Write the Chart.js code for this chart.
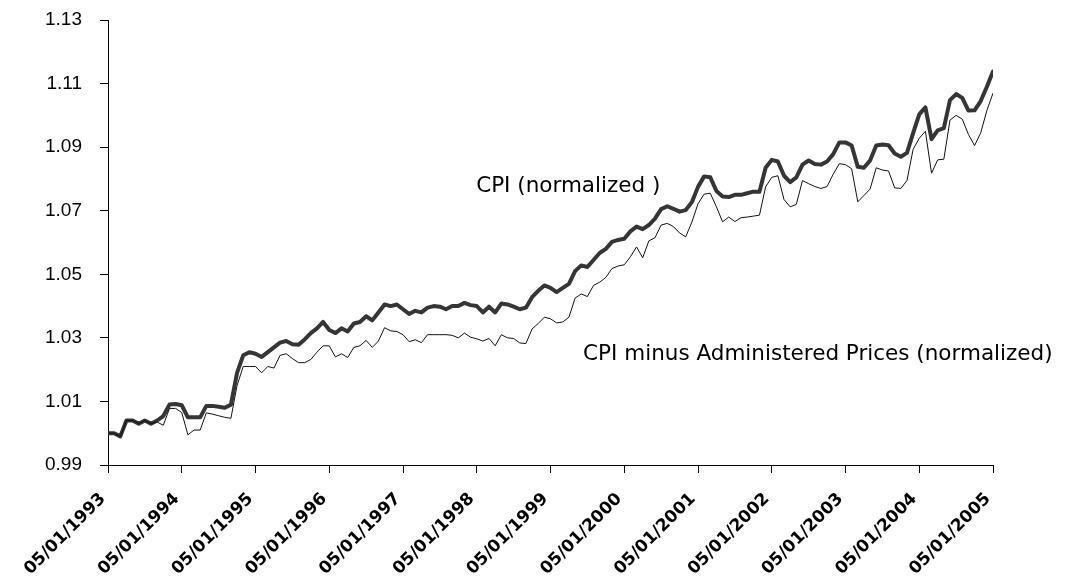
<!DOCTYPE html>
<html>
<head>
<meta charset="utf-8">
<title>CPI vs CPI minus Administered Prices</title>
<script src="https://cdn.jsdelivr.net/npm/chart.js@4.4.1/dist/chart.umd.min.js"></script>
<style>
  html, body { margin: 0; padding: 0; background: #fff; }
  #wrap { width: 1067px; height: 583px; }
  canvas { display: block; }
</style>
</head>
<body>
<div id="wrap"><canvas id="cpiChart" width="1067" height="583"></canvas></div>
<script>
// monthly, 05/1993 .. 05/2005 (145 points), one row per year
const cpi = [
  1.000, 1.000, 0.999, 1.004, 1.004, 1.003, 1.004, 1.003, 1.004, 1.0054, 1.009, 1.0092,
  1.0088, 1.005, 1.005, 1.005, 1.0086, 1.0086, 1.0083, 1.008, 1.009, 1.019, 1.0245, 1.0255,
  1.025, 1.024, 1.0255, 1.027, 1.0285, 1.029, 1.028, 1.0278, 1.0295, 1.0315, 1.033, 1.035,
  1.0325, 1.0315, 1.033, 1.032, 1.0345, 1.035, 1.0368, 1.0355, 1.038, 1.0405, 1.040, 1.0405,
  1.039, 1.0375, 1.0385, 1.038, 1.0395, 1.040, 1.0398, 1.039, 1.040, 1.040, 1.041, 1.0403,
  1.040, 1.038, 1.0398, 1.038, 1.0408, 1.0405, 1.0398, 1.039, 1.0395, 1.0428, 1.0448, 1.0465,
  1.0457, 1.0444, 1.0457, 1.047, 1.051, 1.0528, 1.0523, 1.0545, 1.0567, 1.058, 1.0602, 1.0608,
  1.0612, 1.0635, 1.065, 1.0642, 1.0655, 1.0675, 1.0705, 1.0714, 1.0706, 1.0697, 1.0702, 1.0727,
  1.0775, 1.0808, 1.0805, 1.0762, 1.0745, 1.0743, 1.075, 1.075, 1.0755, 1.076, 1.076, 1.0835,
  1.086, 1.0855, 1.081, 1.079, 1.0805, 1.0845, 1.0858, 1.0847, 1.0845, 1.0855, 1.0878, 1.0915,
  1.0915, 1.0905, 1.0838, 1.0835, 1.0858, 1.0905, 1.0908, 1.0906, 1.088, 1.087, 1.0882, 1.0944,
  1.1003, 1.1025, 1.0925, 1.0953, 1.096, 1.1048, 1.1067, 1.1055, 1.1015, 1.1016, 1.1045, 1.109,
  1.1138
];

const cpiExAdmin = [
  1.000, 1.000, 0.999, 1.004, 1.004, 1.003, 1.004, 1.003, 1.0035, 1.0025, 1.0078, 1.0078,
  1.0065, 0.9995, 1.001, 1.001, 1.0064, 1.006, 1.0055, 1.005, 1.0047, 1.015, 1.021, 1.021,
  1.021, 1.019, 1.021, 1.0205, 1.0245, 1.025, 1.0235, 1.0222, 1.0222, 1.0232, 1.0255, 1.0275,
  1.0275, 1.024, 1.025, 1.0238, 1.027, 1.0275, 1.0292, 1.027, 1.029, 1.0332, 1.0322, 1.032,
  1.031, 1.0288, 1.0294, 1.0285, 1.031, 1.031, 1.031, 1.031, 1.0308, 1.030, 1.0315, 1.0302,
  1.0297, 1.029, 1.0298, 1.0275, 1.031, 1.030, 1.0298, 1.0284, 1.0282, 1.0328, 1.0345, 1.0365,
  1.036, 1.0347, 1.035, 1.0365, 1.0425, 1.0438, 1.043, 1.0465, 1.0475, 1.049, 1.0518, 1.0526,
  1.053, 1.0555, 1.0586, 1.0552, 1.0605, 1.0615, 1.0655, 1.066, 1.065, 1.063, 1.0618, 1.0664,
  1.0722, 1.0752, 1.0755, 1.0712, 1.0665, 1.068, 1.0666, 1.0678, 1.068, 1.0683, 1.0686, 1.0775,
  1.0805, 1.081, 1.0735, 1.0712, 1.072, 1.0795, 1.0785, 1.0776, 1.077, 1.0776, 1.0815, 1.0848,
  1.0845, 1.0832, 1.0728, 1.0748, 1.0768, 1.0835, 1.0828, 1.0825, 1.0772, 1.077, 1.0795, 1.0893,
  1.0928, 1.095, 1.0818, 1.086, 1.0862, 1.0985, 1.1, 1.0988, 1.094, 1.0905, 1.0945, 1.1015,
  1.107
];

// one label every 12 months
const tickLabels = [
  '05/01/1993', '05/01/1994', '05/01/1995', '05/01/1996', '05/01/1997', '05/01/1998', '05/01/1999',
  '05/01/2000', '05/01/2001', '05/01/2002', '05/01/2003', '05/01/2004', '05/01/2005'
];

const yTicks = [0.99, 1.01, 1.03, 1.05, 1.07, 1.09, 1.11, 1.13];

// text put next to the lines: [text, month index, value]
const notes = [
  ['CPI (normalized )', 59.9, 1.0759],
  ['CPI minus Administered Prices (normalized)', 77.3, 1.023]
];

Chart.defaults.color = '#000';
Chart.defaults.font.family = '"Liberation Sans", Arial, sans-serif';

// writes the two series names straight onto the plot
const notesPlugin = {
  id: 'notes',
  afterDatasetsDraw(chart) {
    const ctx = chart.ctx;
    const xs = chart.scales.x, ys = chart.scales.y;
    ctx.save();
    ctx.font = '21.5px "DejaVu Sans"';
    ctx.fillStyle = '#000';
    ctx.textBaseline = 'alphabetic';
    notes.forEach(n => {
      ctx.fillText(n[0], xs.getPixelForValue(n[1]), ys.getPixelForValue(n[2]));
    });
    ctx.restore();
  }
};

const toPoints = arr => arr.map((v, i) => ({ x: i, y: v }));

new Chart(document.getElementById('cpiChart'), {
  type: 'line',
  data: {
    datasets: [
      {
        label: 'CPI minus Administered Prices (normalized)',
        data: toPoints(cpiExAdmin),
        borderColor: '#111',
        borderWidth: 1,
        pointRadius: 0,
        tension: 0,
        order: 1
      },
      {
        label: 'CPI (normalized )',
        data: toPoints(cpi),
        borderColor: '#353535',
        borderWidth: 4,
        borderJoinStyle: 'round',
        borderCapStyle: 'round',
        pointRadius: 0,
        tension: 0,
        order: 2
      }
    ]
  },
  options: {
    responsive: false,
    animation: false,
    // chartArea is 108..993 x 20..465
    layout: { padding: { top: 20, right: 74, left: 0, bottom: 0 } },
    plugins: { legend: { display: false }, tooltip: { enabled: false } },
    scales: {
      x: {
        type: 'linear',
        min: 0,
        max: 144,
        afterFit: s => { s.height = 118; },
        border: { color: '#000', width: 1 },
        grid: { drawOnChartArea: false, drawTicks: true, tickLength: 8, color: '#000' },
        ticks: {
          stepSize: 12,
          autoSkip: false,
          maxRotation: 45,
          minRotation: 45,
          padding: 16,
          labelOffset: -5,
          font: { family: '"DejaVu Sans"', size: 17, weight: 'bold' },
          callback: v => tickLabels[v / 12]
        }
      },
      y: {
        min: 0.99,
        max: 1.13,
        // the tick padding would otherwise be added above/below the axis too
        afterFit: s => { s.width = 108; s.paddingTop = 0; s.paddingBottom = 0; },
        afterBuildTicks: s => { s.ticks = yTicks.map(v => ({ value: v })); },
        border: { color: '#000', width: 1 },
        grid: { drawOnChartArea: false, drawTicks: true, tickLength: 8, color: '#000' },
        ticks: {
          padding: 18,
          font: { size: 19 },
          callback: v => v.toFixed(2)
        }
      }
    }
  },
  plugins: [notesPlugin]
});
</script>
</body>
</html>
